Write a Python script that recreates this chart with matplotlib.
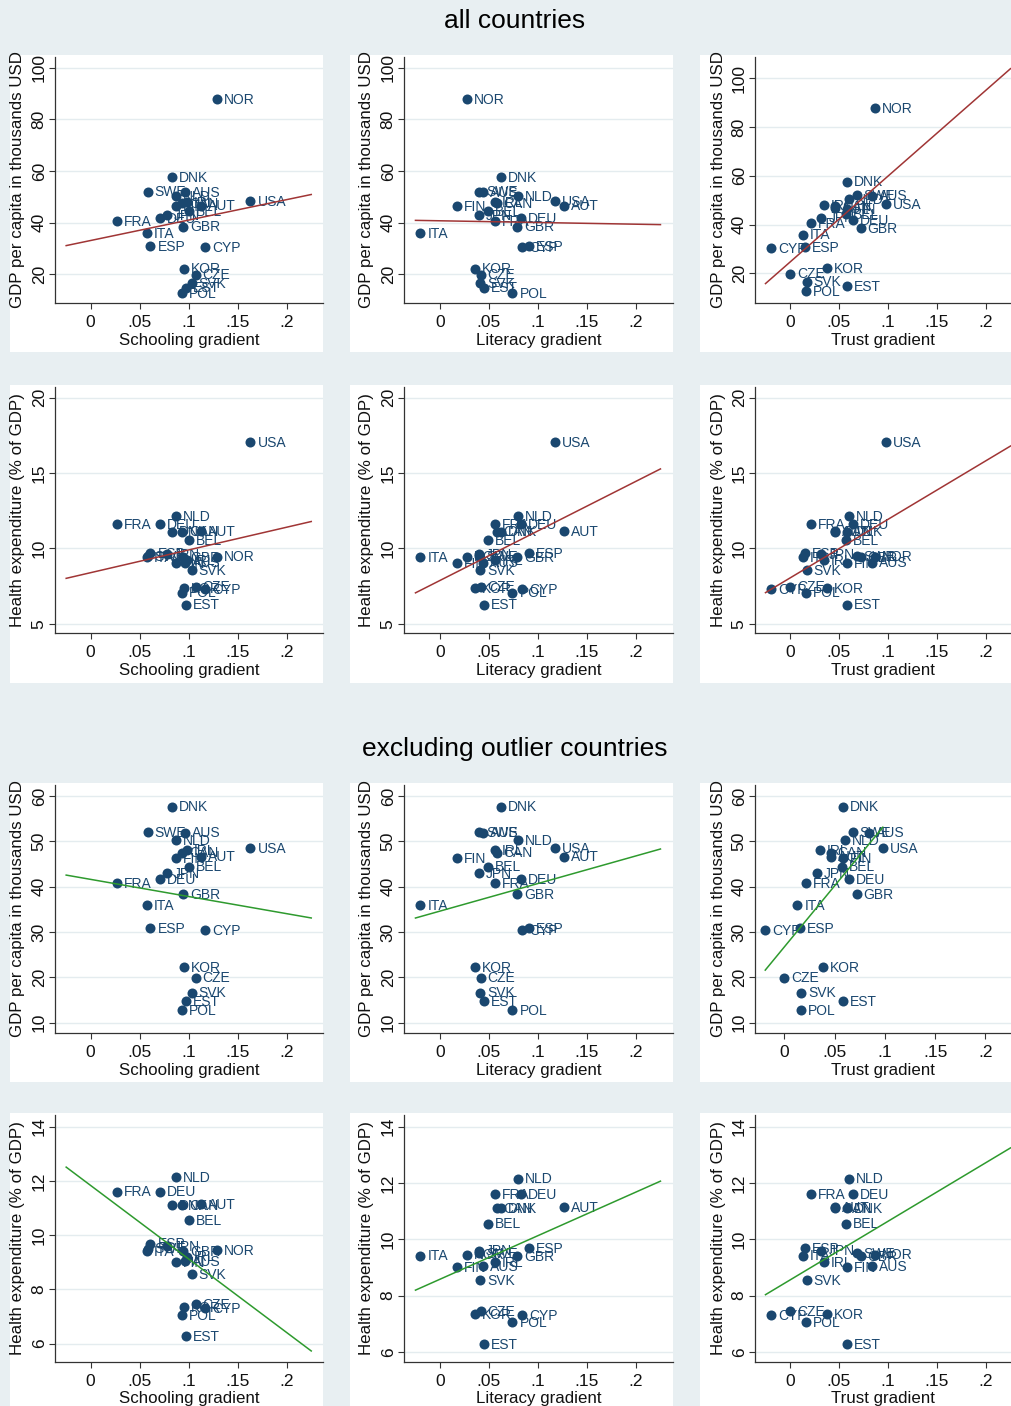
import numpy as np
import matplotlib.pyplot as plt
from matplotlib.patches import Rectangle

plt.rcParams['font.family'] = ['Liberation Sans', 'DejaVu Sans']

# data
countries = ['NOR', 'DNK', 'SWE', 'AUS', 'NLD', 'USA', 'IRL', 'CAN', 'FIN', 'AUT', 'BEL', 'JPN',
             'DEU', 'FRA', 'GBR', 'ITA', 'ESP', 'CYP', 'KOR', 'CZE', 'SVK', 'EST', 'POL']
schooling = [0.129, 0.083, 0.058, 0.096, 0.087, 0.163, 0.098, 0.093, 0.087, 0.113, 0.100, 0.078,
             0.071, 0.027, 0.094, 0.057, 0.061, 0.117, 0.095, 0.107, 0.103, 0.097, 0.093]
literacy = [0.028, 0.062, 0.040, 0.0435, 0.080, 0.117, 0.056, 0.058, 0.017, 0.127, 0.049, 0.040,
            0.083, 0.056, 0.079, -0.020, 0.091, 0.084, 0.036, 0.0415, 0.041, 0.045, 0.074]
trust = [0.087, 0.058, 0.068, 0.084, 0.060, 0.098, 0.035, 0.046, 0.058, 0.046, 0.057, 0.032,
         0.064, 0.0215, 0.072, 0.013, 0.0155, -0.019, 0.038, 0.0, 0.017, 0.058, 0.0165]
gdp = [87.7, 57.6, 52.0, 51.9, 50.3, 48.4, 48.0, 47.5, 46.3, 46.6, 44.4, 42.9,
       41.7, 40.7, 38.4, 35.9, 30.8, 30.4, 22.2, 19.9, 16.6, 14.8, 12.7]
health = [9.45, 11.1, 9.5, 9.05, 12.15, 17.05, 9.2, 11.1, 9.0, 11.15, 10.55, 9.6,
          11.6, 11.6, 9.4, 9.42, 9.69, 7.3, 7.35, 7.45, 8.55, 6.27, 7.05]

gradients = [('Schooling gradient', schooling), ('Literacy gradient', literacy), ('Trust gradient', trust)]
outcomes = [('GDP per capita in thousands USD', gdp, [20, 40, 60, 80, 100], None),
            ('Health expenditure (% of GDP)', health, [5, 10, 15, 20], None),
            ('GDP per capita in thousands USD', gdp, [10, 20, 30, 40, 50, 60], 'NOR'),
            ('Health expenditure (% of GDP)', health, [6, 8, 10, 12, 14], 'USA')]

W, H = 1011, 1406
bg = '#e8eff2'
navy = '#1a476f'
red = '#a03535'
green = '#2e9a2e'


def fbox(l, t, r, b):
    return [l / W, 1 - b / H, (r - l) / W, (b - t) / H]


col_px = [(55, 323), (404, 673), (755, 1011)]
row_px = [(57, 303), (387, 633), (785, 1033), (1115, 1362)]
panel_x = [(10, 323), (350, 673), (700, 1011)]
panel_y = [(55, 352), (385, 683), (783, 1082), (1113, 1406)]

xlims = [[(-0.0364, 0.237), (-0.0367, 0.2378), (-0.0357, 0.2255)],
         [(-0.0364, 0.237), (-0.0367, 0.2378), (-0.0357, 0.2255)],
         [(-0.0364, 0.237), (-0.0367, 0.2378), (-0.0292, 0.2255)],
         [(-0.0364, 0.237), (-0.0367, 0.2378), (-0.0357, 0.2255)]]
ylims = [[(8.9, 104.1), (8.9, 104.1), (7.8, 108.8)],
         [(4.38, 20.7), (4.38, 20.7), (4.38, 20.7)],
         [(7.7, 62.4), (7.7, 62.4), (7.7, 62.4)],
         [(5.32, 14.43), (5.645, 14.41), (5.645, 14.41)]]

fig = plt.figure(figsize=(W / 100, H / 100), dpi=100, facecolor=bg)

fig.text(515 / W, 1 - 21 / H, 'all countries', ha='center', va='center', fontsize=19, color='black')
fig.text(515 / W, 1 - 749 / H, 'excluding outlier countries', ha='center', va='center', fontsize=19, color='black')

for r, (ylab, yvals, yticks, drop) in enumerate(outcomes):
    for c, (xlab, xvals) in enumerate(gradients):
        # white panel behind each graph
        px0, px1 = panel_x[c]
        py0, py1 = panel_y[r]
        fig.add_artist(Rectangle((px0 / W, 1 - py1 / H), (px1 - px0) / W, (py1 - py0) / H,
                                 transform=fig.transFigure, facecolor='white', edgecolor='none', zorder=0))

        l, rr = col_px[c]
        t, b = row_px[r]
        ax = fig.add_axes(fbox(l, t, rr, b))
        ax.set_facecolor('white')

        keep = [i for i, n in enumerate(countries) if n != drop]
        x = np.array([xvals[i] for i in keep])
        y = np.array([yvals[i] for i in keep])
        names = [countries[i] for i in keep]

        ax.scatter(x, y, s=52, color=navy, zorder=3, linewidths=0)
        for n, xi, yi in zip(names, x, y):
            ax.annotate(n, (xi, yi), xytext=(5, -0.5), textcoords='offset points',
                        ha='left', va='center', fontsize=10, color=navy, zorder=4)

        # linear fit
        k, a = np.polyfit(x, y, 1)
        if r == 2 and c == 2:
            xf = np.array([x.min(), x.max()])
        else:
            xf = np.array([-0.025, 0.225])
        ax.plot(xf, a + k * xf, color=red if r < 2 else green, lw=1.1, zorder=5)

        ax.set_xlim(*xlims[r][c])
        ax.set_ylim(*ylims[r][c])
        ax.set_xticks([0, 0.05, 0.1, 0.15, 0.2])
        ax.set_xticklabels(['0', '.05', '.1', '.15', '.2'])
        ax.set_yticks(yticks)
        ax.set_yticklabels([str(v) for v in yticks], rotation=90, va='center')
        ax.grid(axis='y', color='#e4ecef', lw=1.0, zorder=0)
        ax.set_axisbelow(True)
        for s in ['top', 'right']:
            ax.spines[s].set_visible(False)
        for s in ['left', 'bottom']:
            ax.spines[s].set_color('#333333')
            ax.spines[s].set_linewidth(0.9)
        ax.tick_params(direction='out', length=4, width=0.8, color='#333333',
                       labelsize=12.5, labelcolor='#111111')
        ax.tick_params(axis='x', pad=4.5)
        ax.tick_params(axis='y', pad=2)

        fig.text((l + rr) / 2 / W, 1 - (b + 37) / H, xlab, ha='center', va='center',
                 fontsize=12.2, color='#111111')
        fig.text((l - 37) / W, 1 - (t + b) / 2 / H, ylab, ha='center', va='center',
                 rotation=90, fontsize=12.2, color='#111111')

fig.savefig('out.png', dpi=100, facecolor=bg)
